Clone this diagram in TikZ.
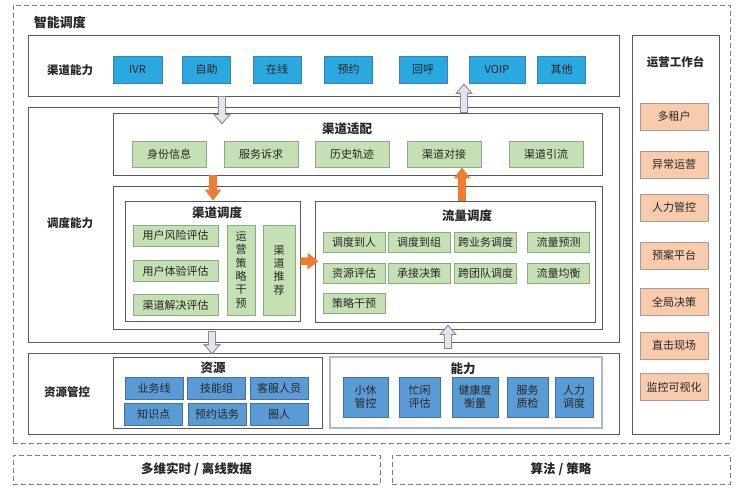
\documentclass[tikz,border=0pt]{standalone}
\usepackage{fontspec}
\setmainfont{Noto Sans CJK SC}
\usepackage{tikz}
\usetikzlibrary{calc, arrows.meta}

\definecolor{skyblue}{HTML}{2AA8E0}
\definecolor{skyedge}{HTML}{3C7FB0}
\definecolor{steelblue}{HTML}{5B9BD5}
\definecolor{steeledge}{HTML}{41719C}
\definecolor{leafgreen}{HTML}{C5E0B4}
\definecolor{leafedge}{HTML}{8FA886}
\definecolor{peach}{HTML}{F8CBAD}
\definecolor{peachedge}{HTML}{A89C94}
\definecolor{boxgray}{HTML}{595959}
\definecolor{dashgray}{HTML}{7F7F7F}
\definecolor{abiledge}{HTML}{A9BCCB}
\definecolor{arroworange}{HTML}{ED7D31}
\definecolor{lilac}{HTML}{E8E2EE}
\definecolor{arrowgray}{HTML}{8C8C8C}
\definecolor{inkgray}{HTML}{262626}

\newcommand{\itemfont}{\fontsize{11}{13.3}\selectfont}
\newcommand{\labelfont}{\bfseries\fontsize{11.5}{14}\selectfont}
\newcommand{\titlefont}{\bfseries\fontsize{12.5}{15}\selectfont}

\tikzstyle{frame}      = [draw=boxgray, line width=0.9pt, inner sep=0pt]
\tikzstyle{abilframe}  = [draw=abiledge, line width=1.2pt, inner sep=0pt]
\tikzstyle{dashframe}  = [draw=dashgray, line width=0.9pt, dash pattern=on 5pt off 3pt, inner sep=0pt]
\tikzstyle{label}      = [font=\labelfont, text=inkgray]
\tikzstyle{title}      = [font=\titlefont, text=inkgray]
\tikzstyle{chanitem}   = [draw=skyedge, fill=skyblue, line width=0.8pt, minimum height=27, inner sep=1pt, font=\itemfont, text=inkgray]
\tikzstyle{blueitem}   = [draw=steeledge, fill=steelblue, line width=0.8pt, inner sep=1pt, font=\itemfont, text=inkgray, align=center]
\tikzstyle{greenitem}  = [draw=leafedge, fill=leafgreen, line width=0.8pt, inner sep=1pt, font=\itemfont, text=inkgray, align=center]
\tikzstyle{opsitem}    = [draw=peachedge, fill=peach, line width=0.8pt, minimum width=68, minimum height=27, inner sep=1pt, font=\itemfont, text=inkgray]
\tikzstyle{orangearrow} = [draw=arroworange, line width=7.5pt, -{Triangle[width=16pt,length=11pt]}]
\tikzstyle{hollowarrow} = [draw=lilac, line width=5.6pt, -{Triangle[width=12.5pt,length=7.5pt]}, shorten >=1.8pt, shorten <=1pt,
                           preaction={draw=arrowgray, line width=8pt, -{Triangle[width=17pt,length=10.5pt]}, shorten >=0pt, shorten <=0pt}]

\begin{document}
\begin{tikzpicture}[x=1pt, y=-1pt]
  \useasboundingbox (0,0) rectangle (750,500);

  %outer dashed frames
  \node[dashframe, minimum width=717, minimum height=438] (smart) at (371.5,224) {};
  \node[title, font=\bfseries\fontsize{13}{15}\selectfont] (smarttitle) at (60,23) {智能调度};
  \node[dashframe, minimum width=367, minimum height=29, font=\titlefont, text=inkgray] (data) at (196.5,469.5) {多维实时 / 离线数据};
  \node[dashframe, minimum width=338, minimum height=29, font=\titlefont, text=inkgray] (algo) at (561,469.5) {算法 / 策略};

  %channel capability row
  \node[frame, minimum width=591, minimum height=61] (chanrow) at (323.5,65.5) {};
  \node[label] (chanlabel) at (70,70) {渠道能力};
  \foreach \x/\t/\w [count=\i] in {137.5/IVR/49, 206.5/自助/48, 277/在线/48, 348.5/预约/48, 423/回呼/48, 497/VOIP/56, 561.5/其他/48}{
    \node[chanitem, minimum width=\w] (ch\i) at (\x,69.5) {\t};
  }

  %operations desk on the right
  \node[frame, minimum width=87, minimum height=399] (ops) at (675.5,234.5) {};
  \node[label] (opslabel) at (675.5,62) {运营工作台};
  \foreach \y/\t [count=\i] in {116.5/多租户, 164.5/异常运营, 207.5/人力管控, 255.5/预案平台, 302/全局决策, 345.5/直击现场, 387/监控可视化}{
    \node[opsitem] (op\i) at (674,\y) {\t};
  }

  %scheduling capability
  \node[frame, minimum width=591, minimum height=235] (sched) at (323.5,224.5) {};
  \node[label] (schedlabel) at (70,223) {调度能力};
  \node[frame, minimum width=489, minimum height=62] (adapt) at (357.5,144) {};
  \node[title] (adapttitle) at (347,129) {渠道适配};
  \foreach \x/\t [count=\i] in {169/身份信息, 261/服务诉求, 352/历史轨迹, 444/渠道对接, 546/渠道引流}{
    \node[greenitem, minimum width=74, minimum height=26] (ad\i) at (\x,154) {\t};
  }
  \node[frame, minimum width=489, minimum height=143] (mid) at (357.5,257.5) {};

  %channel scheduling
  \node[frame, minimum width=175, minimum height=120] (chansch) at (212.5,261) {};
  \node[title] (chanschtitle) at (217,213) {渠道调度};
  \foreach \y/\t [count=\i] in {235.5/用户风险评估, 271/用户体验评估, 305/渠道解决评估}{
    \node[greenitem, minimum width=85, minimum height=21] (cs\i) at (175.5,\y) {\t};
  }
  \node[greenitem, minimum width=28, minimum height=90] (cs4) at (241,270) {运\\营\\策\\略\\干\\预};
  \node[greenitem, minimum width=32, minimum height=90] (cs5) at (279,270) {渠\\道\\推\\荐};

  %flow scheduling
  \node[frame, minimum width=280, minimum height=121] (flow) at (455,261.5) {};
  \node[title] (flowtitle) at (467,216) {流量调度};
  \foreach \x/\y/\t [count=\i] in {354/242/调度到人, 419/242/调度到组, 485.5/242/跨业务调度, 558.5/242/流量预测,
                                   354/273/资源评估, 419/273/承接决策, 485.5/273/跨团队调度, 558.5/273/流量均衡,
                                   354/303/策略干预}{
    \node[greenitem, minimum width=62, minimum height=20] (fl\i) at (\x,\y) {\t};
  }

  %resource control
  \node[frame, minimum width=591, minimum height=81] (resctl) at (323.5,393.5) {};
  \node[label] (reslabel) at (67,392) {资源管控};
  \node[frame, minimum width=209, minimum height=71] (res) at (217.5,392.5) {};
  \node[title] (restitle) at (213,368) {资源};
  \foreach \x/\y/\t [count=\i] in {154/388.5/业务线, 216.5/388.5/技能组, 279/388.5/客服人员,
                                   153.5/414/知识点, 217/414/预约话务, 279/414/圈人}{
    \node[blueitem, minimum width=58, minimum height=22] (rs\i) at (\x,\y) {\t};
  }
  \node[abilframe, minimum width=272, minimum height=71] (abil) at (466,392.5) {};
  \node[title] (abiltitle) at (463,369) {能力};
  \foreach \x/\w/\t [count=\i] in {365.5/45/小休\\管控, 419.5/41/忙闲\\评估, 475/46/健康度\\衡量, 527.5/41/服务\\质检, 574/38/人力\\调度}{
    \node[blueitem, minimum width=\w, minimum height=40] (ab\i) at (\x,397) {\t};
  }

  %arrows between the layers
  \coordinate (ax1) at (222,0);
  \coordinate (ax2) at (464,0);
  \coordinate (ax3) at (213,0);
  \coordinate (ax4) at (462,0);
  \coordinate (ax5) at (212,0);
  \coordinate (ax6) at (448,0);
  \draw[hollowarrow] (chanrow.south -| ax1) -- ($(adapt.north -| ax1)+(0,12)$);
  \draw[hollowarrow] (adapt.north -| ax2) -- ($(chanrow.south -| ax2)+(0,-13)$);
  \draw[orangearrow] (adapt.south -| ax3) -- (chansch.north -| ax3);
  \draw[orangearrow] (flow.north -| ax4) -- (ad4.south -| ax4);
  \draw[orangearrow] (chansch.east) -- ($(flow.west)+(4,0)$);
  \draw[hollowarrow] ($(mid.south -| ax5)+(0,2)$) -- ($(res.north -| ax5)+(0,-2)$);
  \draw[hollowarrow] ($(abil.north -| ax6)+(0,-7)$) -- ($(flow.south -| ax6)+(0,2)$);
\end{tikzpicture}
\end{document}
